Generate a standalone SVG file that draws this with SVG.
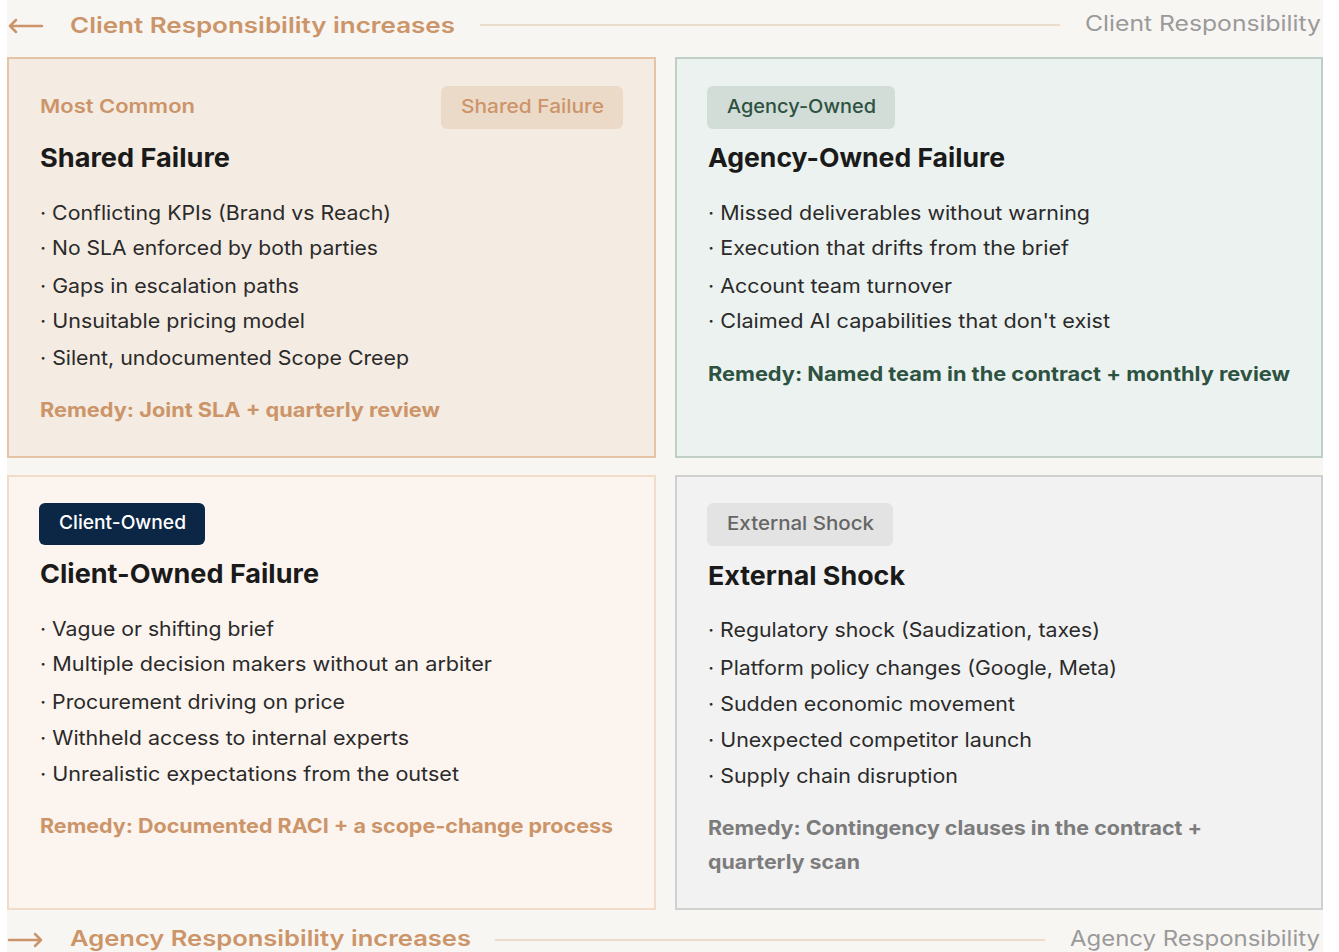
<svg xmlns="http://www.w3.org/2000/svg" width="1339" height="952" viewBox="0 0 1339 952">
  <defs>
    <style>
      text { font-family: Inter, "Noto Sans", "Liberation Sans", sans-serif; }
      .axis { font-size: 22px; font-weight: 600; fill: #cc9569; }
      .axis-end { font-size: 21px; fill: #9a9a9a; }
      .axis-line { stroke: #ecdccc; stroke-width: 2; }
      .arrow { stroke: #cc9569; stroke-width: 2.5; fill: none; stroke-linecap: round; stroke-linejoin: round; }
      .kicker { font-size: 19px; font-weight: 600; fill: #cc9569; }
      .badge-text { font-size: 19px; font-weight: 500; }
      .title { font-size: 26px; font-weight: 700; fill: #1a1a1a; }
      .item { font-size: 20px; fill: #2a2a2a; }
      .remedy { font-size: 20px; font-weight: 700; }
    </style>
  </defs>

  <!-- page -->
  <rect x="7" y="0" width="1316" height="952" fill="#f8f6f3"/>

  <!-- top axis -->
  <g id="axis-top">
    <path class="arrow" d="M42 26 H10 M16 20 L10 26 L16 32"/>
    <text class="axis" x="70" y="33" textLength="385" lengthAdjust="spacingAndGlyphs">Client Responsibility increases</text>
    <line class="axis-line" x1="480" y1="25" x2="1060" y2="25"/>
    <text class="axis-end" x="1085" y="31" textLength="236" lengthAdjust="spacingAndGlyphs">Client Responsibility</text>
  </g>

  <!-- shared failure -->
  <g id="shared-failure">
    <rect x="8" y="58" width="647" height="399" fill="#f4ebe2" stroke="#e5c4a6" stroke-width="2"/>
    <text class="kicker" x="40" y="113" textLength="155" lengthAdjust="spacingAndGlyphs">Most Common</text>
    <rect x="441" y="86" width="182" height="43" rx="6" fill="#ecdac9"/>
    <text class="badge-text" x="461" y="113" fill="#cc9569" textLength="143" lengthAdjust="spacingAndGlyphs">Shared Failure</text>
    <text class="title" x="40" y="167" textLength="190" lengthAdjust="spacingAndGlyphs">Shared Failure</text>
    <text class="item" x="40" y="220" textLength="351" lengthAdjust="spacingAndGlyphs">· Conflicting KPIs (Brand vs Reach)</text>
    <text class="item" x="40" y="255" textLength="338" lengthAdjust="spacingAndGlyphs">· No SLA enforced by both parties</text>
    <text class="item" x="40" y="293" textLength="259" lengthAdjust="spacingAndGlyphs">· Gaps in escalation paths</text>
    <text class="item" x="40" y="328" textLength="265" lengthAdjust="spacingAndGlyphs">· Unsuitable pricing model</text>
    <text class="item" x="40" y="365" textLength="369" lengthAdjust="spacingAndGlyphs">· Silent, undocumented Scope Creep</text>
    <text class="remedy" x="40" y="417" fill="#cc9569" textLength="400" lengthAdjust="spacingAndGlyphs">Remedy: Joint SLA + quarterly review</text>
  </g>

  <!-- agency-owned failure -->
  <g id="agency-owned">
    <rect x="676" y="58" width="646" height="399" fill="#ecf2ef" stroke="#bfcec7" stroke-width="2"/>
    <rect x="707" y="86" width="188" height="43" rx="6" fill="#d2ddd8"/>
    <text class="badge-text" x="727" y="113" fill="#2e5242" textLength="149" lengthAdjust="spacingAndGlyphs">Agency-Owned</text>
    <text class="title" x="708" y="167" textLength="297" lengthAdjust="spacingAndGlyphs">Agency-Owned Failure</text>
    <text class="item" x="708" y="220" textLength="382" lengthAdjust="spacingAndGlyphs">· Missed deliverables without warning</text>
    <text class="item" x="708" y="255" textLength="361" lengthAdjust="spacingAndGlyphs">· Execution that drifts from the brief</text>
    <text class="item" x="708" y="293" textLength="244" lengthAdjust="spacingAndGlyphs">· Account team turnover</text>
    <text class="item" x="708" y="328" textLength="402" lengthAdjust="spacingAndGlyphs">· Claimed AI capabilities that don't exist</text>
    <text class="remedy" x="708" y="381" fill="#2e5242" textLength="582" lengthAdjust="spacingAndGlyphs">Remedy: Named team in the contract + monthly review</text>
  </g>

  <!-- client-owned failure -->
  <g id="client-owned">
    <rect x="8" y="476" width="647" height="433" fill="#fcf4ef" stroke="#f1dcca" stroke-width="2"/>
    <rect x="39" y="503" width="166" height="42" rx="6" fill="#0c2646"/>
    <text class="badge-text" x="59" y="529" fill="#ffffff" textLength="127" lengthAdjust="spacingAndGlyphs">Client-Owned</text>
    <text class="title" x="40" y="583" textLength="279" lengthAdjust="spacingAndGlyphs">Client-Owned Failure</text>
    <text class="item" x="40" y="636" textLength="234" lengthAdjust="spacingAndGlyphs">· Vague or shifting brief</text>
    <text class="item" x="40" y="671" textLength="452" lengthAdjust="spacingAndGlyphs">· Multiple decision makers without an arbiter</text>
    <text class="item" x="40" y="709" textLength="305" lengthAdjust="spacingAndGlyphs">· Procurement driving on price</text>
    <text class="item" x="40" y="745" textLength="369" lengthAdjust="spacingAndGlyphs">· Withheld access to internal experts</text>
    <text class="item" x="40" y="781" textLength="419" lengthAdjust="spacingAndGlyphs">· Unrealistic expectations from the outset</text>
    <text class="remedy" x="40" y="833" fill="#cc9569" textLength="573" lengthAdjust="spacingAndGlyphs">Remedy: Documented RACI + a scope-change process</text>
  </g>

  <!-- external shock -->
  <g id="external-shock">
    <rect x="676" y="476" width="646" height="433" fill="#f2f2f2" stroke="#d0d0d0" stroke-width="2"/>
    <rect x="707" y="503" width="186" height="43" rx="6" fill="#e3e3e3"/>
    <text class="badge-text" x="727" y="530" fill="#666666" textLength="147" lengthAdjust="spacingAndGlyphs">External Shock</text>
    <text class="title" x="708" y="585" textLength="197" lengthAdjust="spacingAndGlyphs">External Shock</text>
    <text class="item" x="708" y="637" textLength="392" lengthAdjust="spacingAndGlyphs">· Regulatory shock (Saudization, taxes)</text>
    <text class="item" x="708" y="675" textLength="409" lengthAdjust="spacingAndGlyphs">· Platform policy changes (Google, Meta)</text>
    <text class="item" x="708" y="711" textLength="307" lengthAdjust="spacingAndGlyphs">· Sudden economic movement</text>
    <text class="item" x="708" y="747" textLength="324" lengthAdjust="spacingAndGlyphs">· Unexpected competitor launch</text>
    <text class="item" x="708" y="783" textLength="250" lengthAdjust="spacingAndGlyphs">· Supply chain disruption</text>
    <text class="remedy" x="708" y="835" fill="#7c7c7c" textLength="494" lengthAdjust="spacingAndGlyphs">Remedy: Contingency clauses in the contract +</text>
    <text class="remedy" x="708" y="869" fill="#7c7c7c" textLength="152" lengthAdjust="spacingAndGlyphs">quarterly scan</text>
  </g>

  <!-- bottom axis -->
  <g id="axis-bottom">
    <path class="arrow" d="M9 940 H41 M35 934 L41 940 L35 946"/>
    <text class="axis" x="70" y="946" textLength="401" lengthAdjust="spacingAndGlyphs">Agency Responsibility increases</text>
    <line class="axis-line" x1="495" y1="940" x2="1045" y2="940"/>
    <text class="axis-end" x="1070" y="946" textLength="250" lengthAdjust="spacingAndGlyphs">Agency Responsibility</text>
  </g>
</svg>
